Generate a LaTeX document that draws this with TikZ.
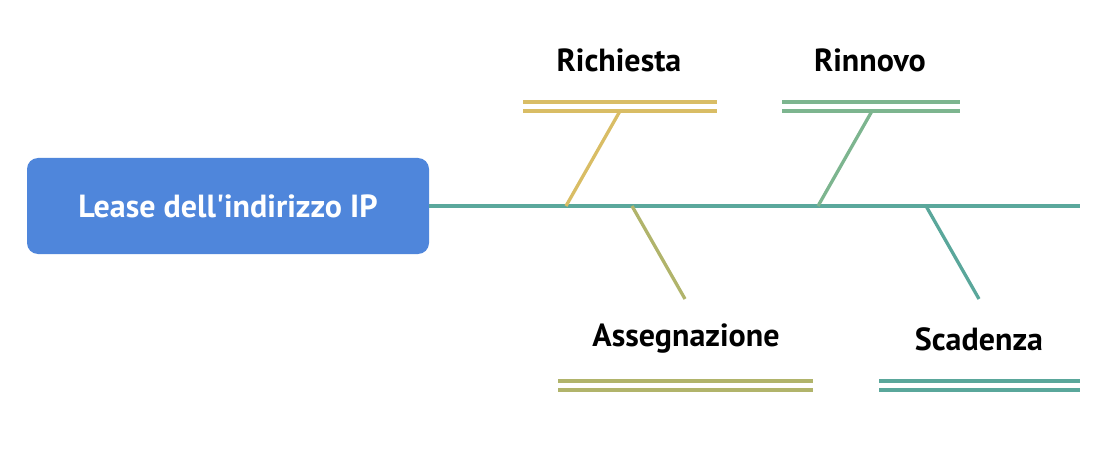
\documentclass[tikz,border=0pt]{standalone}
\usepackage{fontspec}
\setmainfont{PT Sans}
\definecolor{boxblue}{HTML}{4F86DB}
\definecolor{spinec}{HTML}{5BA89C}
\definecolor{goldc}{HTML}{D9BD65}
\definecolor{greenc}{HTML}{7DB58F}
\definecolor{olivec}{HTML}{B1B46B}
\definecolor{tealc}{HTML}{5AA79B}
\begin{document}
\begin{tikzpicture}[x=1pt,y=-1pt,
  lbl/.style={font=\fontsize{32}{35}\selectfont\bfseries, text=black, inner sep=0pt, anchor=center},
  branch/.style={line width=3.3pt},
  dbl/.style={line width=3.3pt}]
\useasboundingbox (0,0) rectangle (1113,457);
\node[fill=boxblue, rounded corners=11pt, minimum width=402pt, minimum height=96pt, inner sep=0pt,
  text=white, font=\fontsize{32}{35}\selectfont\bfseries] (root) at (228,206) {Lease dell\textquotesingle indirizzo IP};
\coordinate (spineend) at (1080,206);
\draw[spinec, line width=3.3pt] (root.east) -- (spineend);
% Richiesta
\coordinate (r1) at (566,206); \coordinate (r2) at (620,111);
\coordinate (rl1) at (523,102); \coordinate (rr1) at (717,102);
\coordinate (rl2) at (523,111); \coordinate (rr2) at (717,111);
\draw[goldc,branch] (r1) -- (r2);
\draw[goldc,dbl] (rl1) -- (rr1) (rl2) -- (rr2);
\node[lbl] (rich) at (619,60) {Richiesta};
% Rinnovo
\coordinate (n1) at (818,206); \coordinate (n2) at (872,111);
\coordinate (nl1) at (782,102); \coordinate (nr1) at (960,102);
\coordinate (nl2) at (782,111); \coordinate (nr2) at (960,111);
\draw[greenc,branch] (n1) -- (n2);
\draw[greenc,dbl] (nl1) -- (nr1) (nl2) -- (nr2);
\node[lbl] (rinn) at (870,60) {Rinnovo};
% Assegnazione
\coordinate (a1) at (632,206); \coordinate (a2) at (685,299);
\coordinate (al1) at (558,381); \coordinate (ar1) at (813,381);
\coordinate (al2) at (558,390); \coordinate (ar2) at (813,390);
\draw[olivec,branch] (a1) -- (a2);
\draw[olivec,dbl] (al1) -- (ar1) (al2) -- (ar2);
\node[lbl] (asse) at (686,339) {Assegnazione};
% Scadenza
\coordinate (s1) at (926,206); \coordinate (s2) at (979,299);
\coordinate (sl1) at (879,381); \coordinate (sr1) at (1080,381);
\coordinate (sl2) at (879,390); \coordinate (sr2) at (1080,390);
\draw[tealc,branch] (s1) -- (s2);
\draw[tealc,dbl] (sl1) -- (sr1) (sl2) -- (sr2);
\node[lbl] (scad) at (979,339) {Scadenza};
\end{tikzpicture}
\end{document}
